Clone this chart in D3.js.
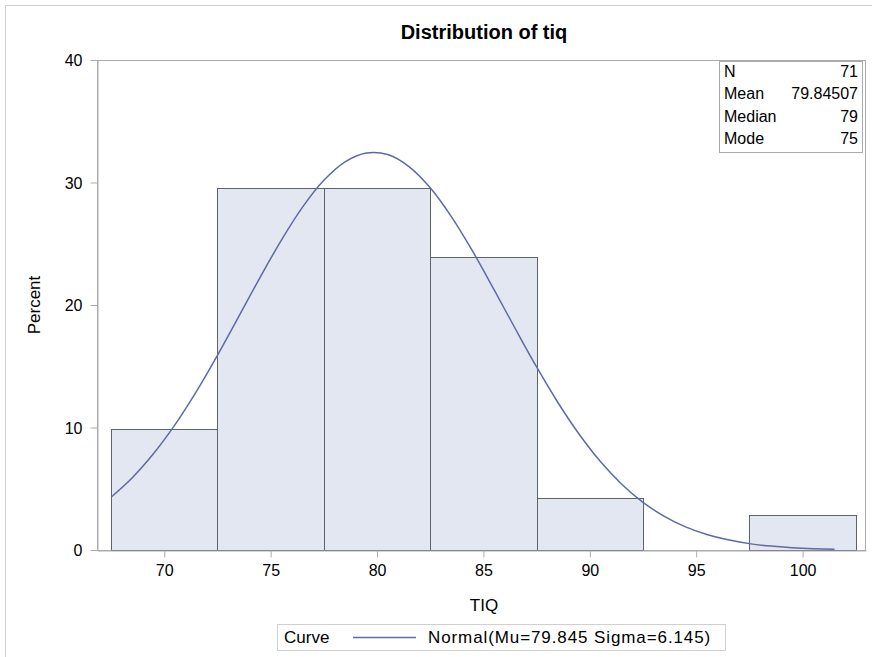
<!DOCTYPE html>
<html>
<head>
<meta charset="utf-8">
<script src="https://cdn.jsdelivr.net/npm/d3@7"></script>
<style>
  body { margin: 0; background: #fff; }
  svg text { font-family: "Liberation Sans", Arial, sans-serif; fill: #000; }
</style>
</head>
<body>
<div id="chart"></div>
<script>
// histogram bins (TIQ), percent of 71 obs
const binStarts = [67.5, 72.5, 77.5, 82.5, 87.5, 92.5, 97.5];
const binWidth = 5;
const binPercents = [9.86, 29.58, 29.58, 23.94, 4.23, 0, 2.82];

// fitted normal curve
const curveX = [67.5, 68.5, 69.5, 70.5, 71.5, 72.5, 73.5, 74.5, 75.5, 76.5, 77.5, 78.5,
  79.5, 80.5, 81.5, 82.5, 83.5, 84.5, 85.5, 86.5, 87.5, 88.5, 89.5, 90.5, 91.5, 92.5,
  93.5, 94.5, 95.5, 96.5, 97.5, 98.5, 99.5, 100.5, 101.5];
const curveY = [4.31, 5.90, 7.87, 10.21, 12.91, 15.89, 19.05, 22.24, 25.28, 27.99, 30.18, 31.69,
  32.41, 32.28, 31.30, 29.57, 27.20, 24.37, 21.25, 18.06, 14.94, 12.04, 9.45, 7.22, 5.37, 3.89,
  2.75, 1.89, 1.27, 0.83, 0.52, 0.32, 0.19, 0.11, 0.07];

const xTicks = [70, 75, 80, 85, 90, 95, 100];
const yTicks = [0, 10, 20, 30, 40];
const statLabels = ['N', 'Mean', 'Median', 'Mode'];
const statValues = ['71', '79.84507', '79', '75'];
const legendText = 'Normal(Mu=79.845 Sigma=6.145)';

const W = 872, H = 657;
const m = { left: 97, right: 866, top: 60, bottom: 550 };

const svg = d3.select('#chart').append('svg')
    .attr('width', W).attr('height', H);

// outer frame
svg.append('rect')
    .attr('x', 5.5).attr('y', 5.5)
    .attr('width', W + 10).attr('height', H + 10)
    .attr('fill', 'none').attr('stroke', '#d0d0d0');

const x = d3.scaleLinear().domain([66.84, 102.98]).range([m.left, m.right]);
const y = d3.scaleLinear().domain([0, 40]).range([m.bottom, m.top]);

// title
svg.append('text')
    .attr('x', 484).attr('y', 39)
    .attr('text-anchor', 'middle')
    .style('font-size', '20px').style('font-weight', 'bold')
    .text('Distribution of tiq');

// plot frame
svg.append('rect')
    .attr('x', m.left + 0.5).attr('y', m.top + 0.5)
    .attr('width', m.right - m.left - 1).attr('height', m.bottom - m.top)
    .attr('fill', 'none').attr('stroke', '#a8acb0');

// bars
svg.append('g').selectAll('rect')
    .data(binStarts.map((s, i) => ({ s, p: binPercents[i] })).filter(d => d.p > 0))
    .enter().append('rect')
    .attr('x', d => Math.round(x(d.s)) + 0.5)
    .attr('y', d => Math.round(y(d.p)) + 0.5)
    .attr('width', d => Math.round(x(d.s + binWidth)) - Math.round(x(d.s)))
    .attr('height', d => Math.round(y(0)) - Math.round(y(d.p)))
    .attr('fill', '#e3e7f1')
    .attr('stroke', '#5f6266')
    .attr('stroke-width', 1);

// normal curve
const line = d3.line()
    .x((d, i) => x(curveX[i]))
    .y(d => y(d))
    .curve(d3.curveCatmullRom);
svg.append('path')
    .attr('d', line(curveY))
    .attr('fill', 'none')
    .attr('stroke', '#5d6aa6')
    .attr('stroke-width', 1.5);

// axes
const xAxis = svg.append('g')
    .attr('transform', `translate(0,${m.bottom + 0.5})`)
    .call(d3.axisBottom(x).tickValues(xTicks).tickSize(7).tickPadding(7).tickSizeOuter(0));
const yAxis = svg.append('g')
    .attr('transform', `translate(${m.left + 0.5},0)`)
    .call(d3.axisLeft(y).tickValues(yTicks).tickSize(7).tickPadding(8).tickSizeOuter(0));

[xAxis, yAxis].forEach(a => {
    a.select('.domain').attr('stroke', '#a8acb0');
    a.selectAll('.tick line').attr('stroke', '#a8acb0');
    a.selectAll('.tick text').style('font-size', '16px').attr('fill', '#000')
        .style('font-family', '"Liberation Sans", Arial, sans-serif');
});
yAxis.selectAll('.tick text').attr('dy', '0.35em');

// axis labels
svg.append('text')
    .attr('x', 484).attr('y', 611)
    .attr('text-anchor', 'middle')
    .style('font-size', '17px')
    .text('TIQ');
svg.append('text')
    .attr('transform', `translate(40,${(m.top + m.bottom) / 2}) rotate(-90)`)
    .attr('text-anchor', 'middle')
    .style('font-size', '17px')
    .text('Percent');

// stats box
const sb = { x: 719, y: 61, w: 143, h: 91 };
svg.append('rect')
    .attr('x', sb.x + 0.5).attr('y', sb.y + 0.5)
    .attr('width', sb.w).attr('height', sb.h)
    .attr('fill', '#fff').attr('stroke', '#a8acb0');
statLabels.forEach((lab, i) => {
    const ty = sb.y + 16 + i * 22.3;
    svg.append('text').attr('x', sb.x + 5).attr('y', ty)
        .style('font-size', '16px').text(lab);
    svg.append('text').attr('x', sb.x + sb.w - 4).attr('y', ty)
        .attr('text-anchor', 'end')
        .style('font-size', '16px').text(statValues[i]);
});

// legend
const lg = { x: 277, y: 624, w: 448, h: 26 };
svg.append('rect')
    .attr('x', lg.x + 0.5).attr('y', lg.y + 0.5)
    .attr('width', lg.w).attr('height', lg.h)
    .attr('fill', '#fff').attr('stroke', '#d0d0d0');
svg.append('text').attr('x', lg.x + 7).attr('y', lg.y + 19)
    .style('font-size', '17px').text('Curve');
svg.append('line')
    .attr('x1', 353).attr('x2', 416)
    .attr('y1', lg.y + 13.5).attr('y2', lg.y + 13.5)
    .attr('stroke', '#5d6aa6').attr('stroke-width', 1.5);
svg.append('text').attr('x', 428).attr('y', lg.y + 19)
    .style('font-size', '17px').style('letter-spacing', '0.9px')
    .text(legendText);
</script>
</body>
</html>
